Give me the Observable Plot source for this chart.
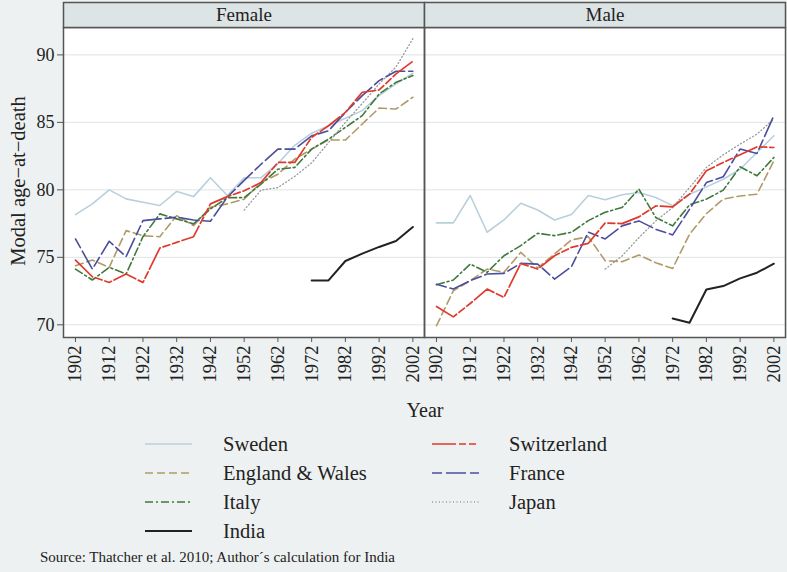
<!DOCTYPE html>
<html><head><meta charset="utf-8">
<script src="https://cdn.jsdelivr.net/npm/d3@7"></script>
<script src="https://cdn.jsdelivr.net/npm/@observablehq/plot@0.6"></script>
<style>
body{margin:0;background:#eef1f1;}
#wrap{position:relative;width:787px;height:572px;background:#eef1f1;font-family:"Liberation Serif","DejaVu Serif",serif;color:#222;overflow:hidden}
#chart{position:absolute;left:0;top:0}
.ylab{position:absolute;left:18px;top:181px;transform:translate(-50%,-50%) rotate(-90deg);font-size:20.5px;white-space:nowrap}
.xlab{position:absolute;left:425px;top:410px;transform:translate(-50%,-50%);font-size:20px}
.leg{position:absolute;font-size:20.5px;white-space:nowrap;transform:translateY(-50%)}
.sw{position:absolute;transform:translateY(-50%)}
.src{position:absolute;left:40px;top:557px;transform:translateY(-50%);font-size:15px;white-space:nowrap}
</style></head><body>
<div id="wrap"><div id="chart"></div>
<div class="ylab">Modal age−at−death</div>
<div class="xlab">Year</div>
<div id="legend"></div>
<div class="src">Source: Thatcher et al. 2010; Author´s calculation for India</div>
</div>
<script>
const years = [1902,1907,1912,1917,1922,1927,1932,1937,1942,1947,1952,1957,1962,1967,1972,1977,1982,1987,1992,1997,2002];
const xTicks = [1902,1912,1922,1932,1942,1952,1962,1972,1982,1992,2002];
const yTicks = [70,75,80,85,90];
const sexes = ["Female","Male"];
const countries = ["Sweden","England & Wales","Italy","India","Switzerland","France","Japan"];
const _ = null;

// Female
const swedenF = [78.17,78.96,80.0,79.33,79.08,78.84,79.88,79.5,80.9,79.58,80.9,80.9,81.95,83.3,84.2,84.75,85.3,85.87,86.98,87.85,88.64];
const englandF = [74.38,74.8,74.26,76.98,76.6,76.53,78.09,77.35,78.71,78.96,79.31,80.54,81.16,82.28,83.02,83.69,83.69,84.88,86.06,85.99,86.86];
const italyF = [74.13,73.32,74.26,73.76,76.53,78.22,77.85,77.48,78.59,79.41,79.43,80.42,81.53,81.66,83.02,83.76,84.63,85.5,87.1,87.97,88.47];
const indiaF = [_,_,_,_,_,_,_,_,_,_,_,_,_,_,73.29,73.29,74.73,75.27,75.77,76.21,77.25];
const switzF = [74.8,73.56,73.14,73.76,73.14,75.69,76.11,76.53,78.96,79.5,79.93,80.54,82.03,82.03,83.89,84.75,85.74,87.23,87.4,88.59,89.53];
const franceF = [76.36,74.13,76.19,75.05,77.72,77.85,77.97,77.77,77.67,79.46,80.7,81.9,83.02,83.02,84.0,84.38,85.74,86.98,88.09,88.79,88.79];
const japanF = [_,_,_,_,_,_,_,_,_,_,78.5,79.98,80.17,81.0,82.0,83.5,85.0,86.4,87.85,89.1,91.2];

// Male
const swedenM = [77.55,77.55,79.58,76.86,77.77,79.01,78.51,77.77,78.17,79.58,79.26,79.64,79.81,79.44,78.83,79.68,80.22,80.79,81.53,82.77,84.01];
const englandM = [69.93,72.52,73.27,74.13,73.89,75.37,74.21,75.25,76.29,76.53,74.75,74.68,75.17,74.6,74.18,76.71,78.24,79.31,79.55,79.68,82.15];
const italyM = [72.97,73.32,74.5,73.89,75.12,75.87,76.78,76.61,76.86,77.72,78.34,78.69,80.05,77.95,77.33,78.89,79.31,79.98,81.71,81.04,82.4];
const indiaM = [_,_,_,_,_,_,_,_,_,_,_,_,_,_,70.47,70.15,72.62,72.87,73.44,73.86,74.53];
const switzM = [71.36,70.59,71.58,72.65,72.03,74.55,74.13,75.12,75.74,76.04,77.55,77.5,78.0,78.81,78.74,79.68,81.41,82.03,82.6,83.19,83.14];
const franceM = [73.0,72.65,73.27,73.76,73.81,74.55,74.5,73.39,74.31,76.86,76.36,77.33,77.7,77.08,76.66,78.56,80.54,80.97,83.02,82.7,85.5];
const japanM = [_,_,_,_,_,_,_,_,_,_,74.13,75.1,76.46,77.7,78.69,80.17,81.66,82.6,83.39,84.13,85.25];

const series = {
  "Sweden": [swedenF, swedenM],
  "England & Wales": [englandF, englandM],
  "Italy": [italyF, italyM],
  "India": [indiaF, indiaM],
  "Switzerland": [switzF, switzM],
  "France": [franceF, franceM],
  "Japan": [japanF, japanM]
};
const styles = {
  "Sweden": {stroke: "#b8d0dc", dash: null, w: 1.6},
  "England & Wales": {stroke: "#b09a68", dash: "8,4", w: 1.6},
  "Italy": {stroke: "#3f7a3c", dash: "8,3,2,3", w: 1.6},
  "India": {stroke: "#222222", dash: null, w: 2},
  "Switzerland": {stroke: "#e0392c", dash: "24,3,7,3,7,3", w: 1.7},
  "France": {stroke: "#4b4e9c", dash: "10,4,20,4", w: 1.6},
  "Japan": {stroke: "#9a9a9a", dash: "1,2.5", w: 1.3}
};

const rows = [];
for (const c of countries) {
  sexes.forEach((s, i) => {
    series[c][i].forEach((v, j) => { if (v != null) rows.push({country: c, sex: s, year: years[j], value: v}); });
  });
}

const drawOrder = ["Sweden","England & Wales","Italy","Japan","France","Switzerland","India"];
const lineMarks = drawOrder.map(c => Plot.line(rows.filter(d => d.country === c), {
  x: "year", y: "value", fx: "sex",
  stroke: styles[c].stroke, strokeWidth: styles[c].w,
  strokeDasharray: styles[c].dash, strokeLinejoin: "round"
}));

const H = 392, MT = 27, MB = 55;
const chart = Plot.plot({
  width: 787, height: H,
  marginLeft: 62, marginRight: 2, marginTop: MT, marginBottom: MB,
  style: {background: "transparent", fontFamily: "Liberation Serif", fontSize: "15px", color: "#222", overflow: "visible"},
  fx: {domain: sexes, padding: 0, axis: null},
  x: {domain: [1898.45, 2005.45]},
  y: {domain: [69.06, 92.03]},
  marks: [
    Plot.frame({fill: "white"}),
    Plot.gridY(yTicks, {stroke: "#dfe4e4", strokeOpacity: 1, strokeWidth: 1}),
    ...lineMarks,
    Plot.frame({stroke: "#555", strokeWidth: 1.5}),
    Plot.frame({fill: "#dde4e5", stroke: "#555", strokeWidth: 1.5, insetTop: -25, insetBottom: H - MT - MB}),
    Plot.text(sexes, {fx: d => d, text: d => d, frameAnchor: "top", lineAnchor: "middle", dy: -13, fontSize: 19, fill: "#222"}),
    Plot.axisY(yTicks, {tickSize: 6, tickPadding: 3, fontSize: 18, label: null, stroke: "#555"}),
    Plot.axisX(xTicks, {tickSize: 5, tickPadding: 3, tickRotate: -90, fontSize: 18.5, label: null, tickFormat: d => String(d), stroke: "#555"})
  ]
});
document.getElementById("chart").append(chart);

// legend
const leg = document.getElementById("legend");
const legPos = [
  ["Sweden", 145, 192, 223, 444],
  ["England & Wales", 145, 192, 223, 473],
  ["Italy", 145, 192, 223, 502],
  ["India", 145, 192, 223, 531],
  ["Switzerland", 432, 479, 509, 444],
  ["France", 432, 479, 509, 473],
  ["Japan", 432, 479, 509, 502]
];
for (const [c, x1, x2, tx, y] of legPos) {
  const st = styles[c];
  const svg = d3.create("svg").attr("class", "sw").attr("width", x2 - x1).attr("height", 6)
    .style("left", x1 + "px").style("top", y + "px");
  svg.append("line").attr("x1", 0).attr("x2", x2 - x1).attr("y1", 3).attr("y2", 3)
    .attr("stroke", st.stroke).attr("stroke-width", st.w).attr("stroke-dasharray", st.dash);
  leg.append(svg.node());
  const t = document.createElement("div");
  t.className = "leg"; t.textContent = c; t.style.left = tx + "px"; t.style.top = y + "px";
  leg.append(t);
}
</script>
</body></html>
